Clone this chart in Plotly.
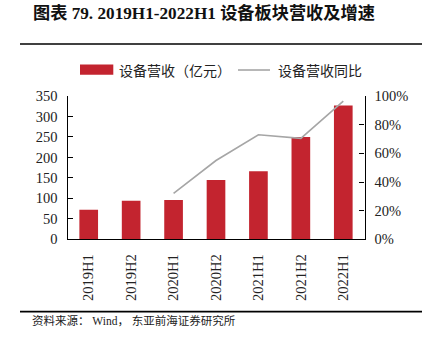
import plotly.graph_objects as go

categories = ["2019H1", "2019H2", "2020H1", "2020H2", "2021H1", "2021H2", "2022H1"]
revenue = [72, 94, 96, 145, 166, 250, 327]          # 设备营收（亿元）
yoy = [None, None, 0.32, 0.55, 0.73, 0.705, 0.965]  # 设备营收同比
left_ticks = [0, 50, 100, 150, 200, 250, 300, 350]
right_ticks = [0, 0.2, 0.4, 0.6, 0.8, 1.0]

W, H = 422, 347
RED = "#C3242F"
GRAY = "#A6A6A6"
SERIF = "Liberation Serif, Times New Roman, serif"
CJK = "Noto Sans CJK SC"

x0, x1 = 67.5, 364.5
y_bottom, y_top = 242.5, 92.3

fig = go.Figure()
fig.add_trace(go.Bar(x=categories, y=revenue, name="设备营收（亿元）",
                     marker=dict(color=RED, line=dict(width=0)), width=0.44,
                     showlegend=False))
fig.add_trace(go.Scatter(x=categories, y=yoy, name="设备营收同比", mode="lines",
                         line=dict(color=GRAY, width=1.6), yaxis="y2",
                         showlegend=False, connectgaps=False))

axis_common = dict(showgrid=False, zeroline=False, showline=True,
                   linecolor="black", linewidth=1.3)

fig.update_layout(
    width=W, height=H,
    margin=dict(l=0, r=0, t=0, b=0),
    paper_bgcolor="white", plot_bgcolor="white",
    xaxis=dict(domain=[x0 / W, x1 / W], tickangle=-90, ticks="",
               tickfont=dict(family=SERIF, size=14.5, color="#222"),
               ticklabelstandoff=8, **axis_common),
    yaxis=dict(domain=[1 - y_bottom / H, 1 - y_top / H], range=[0, 350],
               tickvals=left_ticks, ticks="inside", ticklen=5, tickwidth=1.3,
               tickcolor="black", ticklabelstandoff=6,
               tickfont=dict(family=SERIF, size=14.5, color="#222"), **axis_common),
    yaxis2=dict(overlaying="y", side="right", range=[0, 1], tickvals=right_ticks,
                tickformat=".0%", ticks="inside", ticklen=5, tickwidth=1.3,
                tickcolor="black", ticklabelstandoff=6,
                tickfont=dict(family=SERIF, size=14.5, color="#222"), **axis_common),
    bargap=0.56,
)

shapes = [
    dict(type="line", xref="paper", yref="paper", x0=20 / W, x1=1,
         y0=1 - 37.7 / H, y1=1 - 37.7 / H, line=dict(color="black", width=1.6)),
    dict(type="line", xref="paper", yref="paper", x0=20 / W, x1=1,
         y0=1 - 318.3 / H, y1=1 - 318.3 / H, line=dict(color="black", width=1.6)),
    # legend symbols
    dict(type="rect", xref="paper", yref="paper", x0=80 / W, x1=113.3 / W,
         y0=1 - 70 / H, y1=1 - 59.3 / H, fillcolor=RED, line=dict(width=0)),
    dict(type="line", xref="paper", yref="paper", x0=238 / W, x1=270 / W,
         y0=1 - 65 / H, y1=1 - 65 / H, line=dict(color=GRAY, width=1.6)),
]
fig.update_layout(shapes=shapes)

annotations = [
    dict(text="<b>图表 79. 2019H1-2022H1 设备板块营收及增速</b>", xref="paper", yref="paper",
         x=31 / W, y=1 - 5 / H, xanchor="left", yanchor="middle", showarrow=False,
         font=dict(family=SERIF + ", " + CJK, size=17.2, color="#111")),
    dict(text="设备营收（亿元）", xref="paper", yref="paper", x=117 / W, y=1 - 65 / H,
         xanchor="left", yanchor="middle", showarrow=False,
         font=dict(family=CJK, size=14, color="#222")),
    dict(text="设备营收同比", xref="paper", yref="paper", x=276 / W, y=1 - 65 / H,
         xanchor="left", yanchor="middle", showarrow=False,
         font=dict(family=CJK, size=14, color="#222")),
    dict(text="资料来源： Wind， 东亚前海证券研究所", xref="paper", yref="paper",
         x=30 / W, y=1 - 327.5 / H, xanchor="left", yanchor="middle", showarrow=False,
         font=dict(family=SERIF + ", " + CJK, size=11.5, color="#222")),
]
fig.update_layout(annotations=annotations)

fig.write_html("out.html")
